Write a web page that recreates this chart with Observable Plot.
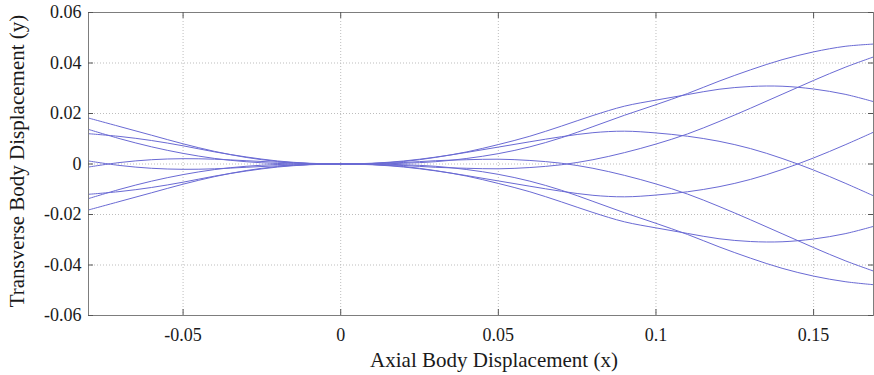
<!DOCTYPE html>
<html><head><meta charset="utf-8">
<script src="https://cdn.jsdelivr.net/npm/d3@7"></script>
<script src="https://cdn.jsdelivr.net/npm/@observablehq/plot@0.6"></script>
<style>html,body{margin:0;padding:0;background:#fff}svg{display:block}</style>
</head><body><div id="chart"></div>
<script>
// Axial positions where the curves were read
const axialX = [-0.08, -0.07, -0.06, -0.05, -0.04, -0.03, -0.02, -0.01, 0, 0.01, 0.02, 0.03, 0.04, 0.05, 0.06, 0.07, 0.08, 0.09, 0.10, 0.11, 0.12, 0.13, 0.14, 0.15, 0.16, 0.169];
// Transverse displacement of each body curve
const curve1 = [-0.0137, -0.0100, -0.0068, -0.0042, -0.0022, -0.0009, -0.0002, 0, 0, 0, 0.0003, 0.0009, 0.0022, 0.0041, 0.0068, 0.0104, 0.0148, 0.0193, 0.0235, 0.0279, 0.0328, 0.0373, 0.0413, 0.0444, 0.0466, 0.0475];
const curve2 = [-0.0012, 0.0006, 0.0017, 0.0021, 0.0019, 0.0013, 0.0007, 0.0002, 0, 0.0002, 0.0010, 0.0026, 0.0048, 0.0077, 0.0110, 0.0150, 0.0192, 0.0229, 0.0253, 0.0275, 0.0296, 0.0307, 0.0308, 0.0297, 0.0276, 0.0247];
const curve3 = [0.0120, 0.0109, 0.0093, 0.0072, 0.0048, 0.0028, 0.0012, 0.0003, 0, 0.0003, 0.0012, 0.0027, 0.0046, 0.0067, 0.0088, 0.0108, 0.0124, 0.0130, 0.0123, 0.0110, 0.0090, 0.0061, 0.0022, -0.0024, -0.0076, -0.0126];
const curve4 = [-0.0182, -0.0148, -0.0114, -0.0080, -0.0050, -0.0026, -0.0010, -0.0002, 0, -0.0002, -0.0006, -0.0013, -0.0017, -0.0019, -0.0014, -0.0003, 0.0017, 0.0045, 0.0079, 0.0119, 0.0168, 0.0221, 0.0276, 0.0331, 0.0383, 0.0424];
const curve5 = [0.0137, 0.0100, 0.0068, 0.0042, 0.0022, 0.0009, 0.0002, 0, 0, 0, -0.0003, -0.0009, -0.0022, -0.0041, -0.0068, -0.0104, -0.0148, -0.0193, -0.0235, -0.0279, -0.0328, -0.0373, -0.0413, -0.0444, -0.0466, -0.0478];
const curve6 = [0.0012, -0.0006, -0.0017, -0.0021, -0.0019, -0.0013, -0.0007, -0.0002, 0, -0.0002, -0.0010, -0.0026, -0.0048, -0.0077, -0.0110, -0.0150, -0.0192, -0.0229, -0.0253, -0.0275, -0.0296, -0.0307, -0.0308, -0.0297, -0.0276, -0.0247];
const curve7 = [-0.0120, -0.0109, -0.0093, -0.0072, -0.0048, -0.0028, -0.0012, -0.0003, 0, -0.0003, -0.0012, -0.0027, -0.0046, -0.0067, -0.0088, -0.0108, -0.0124, -0.0130, -0.0123, -0.0110, -0.0090, -0.0061, -0.0022, 0.0024, 0.0076, 0.0126];
const curve8 = [0.0182, 0.0148, 0.0114, 0.0080, 0.0050, 0.0026, 0.0010, 0.0002, 0, 0.0002, 0.0006, 0.0013, 0.0017, 0.0019, 0.0014, 0.0003, -0.0017, -0.0045, -0.0079, -0.0119, -0.0168, -0.0221, -0.0276, -0.0331, -0.0383, -0.0424];

const xTicks = [-0.05, 0, 0.05, 0.1, 0.15];
const yTicks = [-0.06, -0.04, -0.02, 0, 0.02, 0.04, 0.06];
const xLabel = "Axial Body Displacement (x)";
const yLabel = "Transverse Body Displacement (y)";

const curves = {curve1, curve2, curve3, curve4, curve5, curve6, curve7, curve8};
const rows = Object.entries(curves).flatMap(([name, ys]) => ys.map((y, i) => ({name, x: axialX[i], y})));
const fmt = d => String(d);

const chart = Plot.plot({
  width: 874,
  height: 375,
  marginLeft: 88,
  marginRight: 1,
  marginTop: 12,
  marginBottom: 60,
  x: {domain: [-0.08, 0.169]},
  y: {domain: [-0.06, 0.06]},
  style: {fontFamily: "'Liberation Serif', 'Times New Roman', serif", fontSize: "18px", color: "#1a1a1a", background: "#fff", overflow: "visible"},
  marks: [
    Plot.gridX(xTicks, {stroke: "#bdbdbd", strokeOpacity: 1, strokeDasharray: "1,2"}),
    Plot.gridY(yTicks, {stroke: "#bdbdbd", strokeOpacity: 1, strokeDasharray: "1,2"}),
    Plot.lineY(rows, {x: "x", y: "y", z: "name", stroke: "#6a6ad4", strokeWidth: 1, curve: "catmull-rom"}),
    Plot.frame({stroke: "#7d7d7d"}),
    Plot.tickX(xTicks, {x: d => d, insetTop: 297, stroke: "#555"}),
    Plot.tickX(xTicks, {x: d => d, insetBottom: 297, stroke: "#555"}),
    Plot.tickY(yTicks, {y: d => d, insetRight: 780, stroke: "#555"}),
    Plot.tickY(yTicks, {y: d => d, insetLeft: 780, stroke: "#555"}),
    Plot.axisX({ticks: xTicks, tickSize: 0, tickPadding: 13, tickFormat: fmt, label: null, fontSize: 18}),
    Plot.axisY({ticks: yTicks, tickSize: 0, tickPadding: 7, tickFormat: fmt, label: null, fontSize: 18}),
    Plot.text([xLabel], {text: d => d, frameAnchor: "bottom", dy: 45, dx: 13, fontSize: 21, lineAnchor: "middle", textAnchor: "middle"}),
    Plot.text([yLabel], {text: d => d, frameAnchor: "left", rotate: -90, dx: -71, dy: -3, fontSize: 21, lineAnchor: "middle", textAnchor: "middle"})
  ]
});
document.getElementById("chart").appendChild(chart);
</script>
</body></html>
